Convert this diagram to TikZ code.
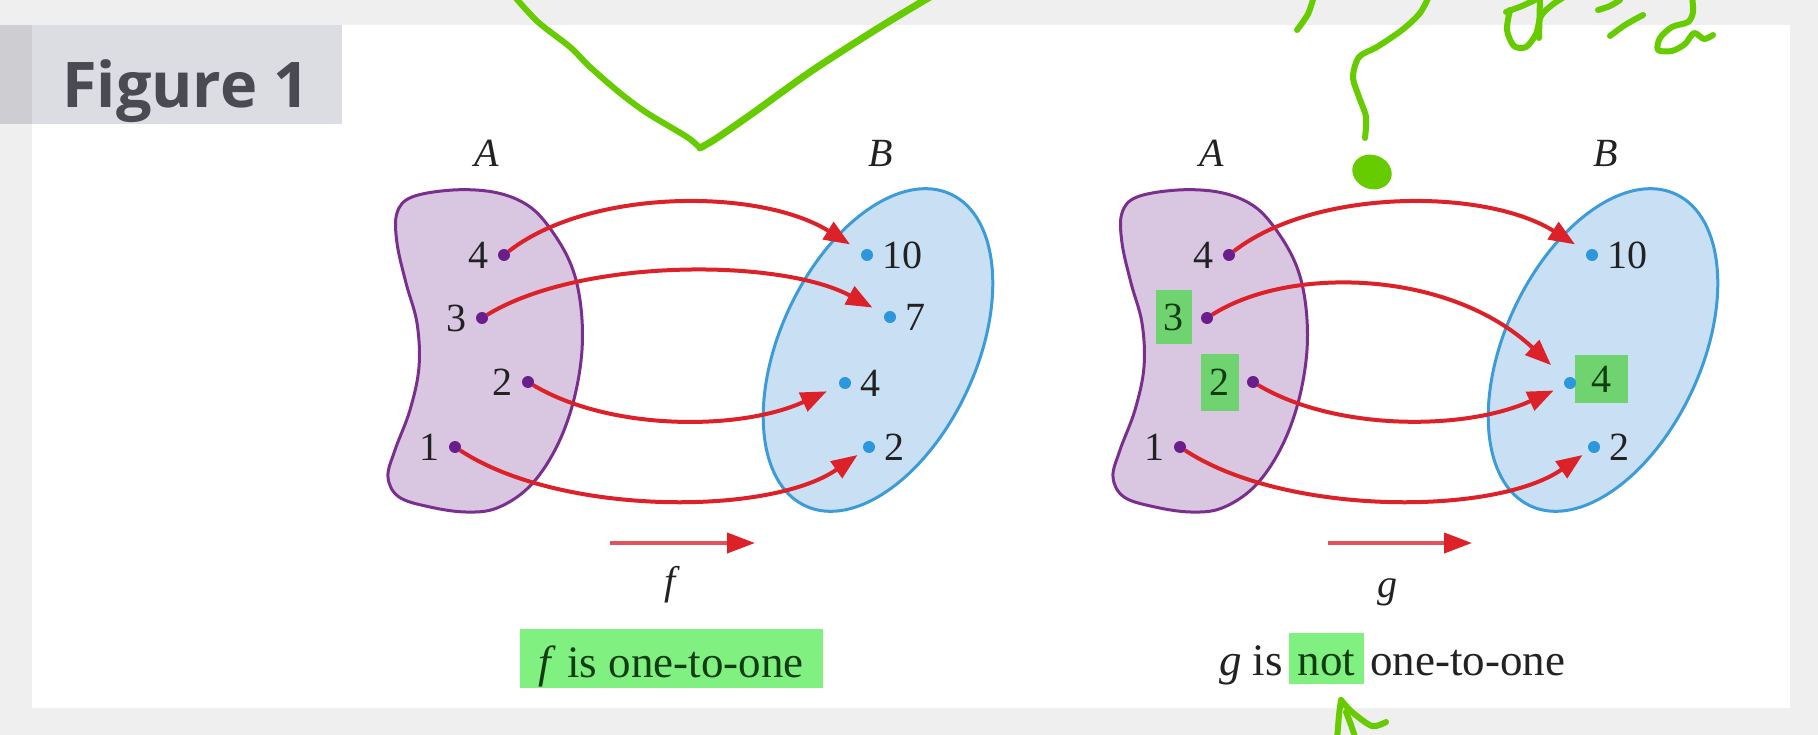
\documentclass[tikz,border=0pt]{standalone}
\usepackage{fontspec}
\setmainfont{Liberation Serif}
\newfontfamily\figfont{Open Sans}
\usetikzlibrary{arrows.meta}
\definecolor{bgout}{HTML}{EFEFEF}
\definecolor{tabfill}{HTML}{DCDCE3}
\definecolor{tabdark}{HTML}{CECED2}
\definecolor{tabtext}{HTML}{4A4A52}
\definecolor{blobAline}{HTML}{7A2F8E}
\definecolor{blobAfill}{HTML}{D9C7E1}
\definecolor{ellBline}{HTML}{3C9BD9}
\definecolor{ellBfill}{HTML}{C9DFF4}
\definecolor{dotA}{HTML}{6A1E8C}
\definecolor{dotB}{HTML}{2D97DD}
\definecolor{txt}{HTML}{222222}
\definecolor{arrred}{HTML}{DD2129}
\definecolor{arrpink}{HTML}{E2525C}
\definecolor{hlnum}{HTML}{6FD46F}
\definecolor{hlbright}{HTML}{80F080}
\definecolor{hltext}{HTML}{123D12}
\definecolor{scribble}{HTML}{66CC00}
\newcommand\myhlbox[1]{{\setlength\fboxsep{0pt}\colorbox{hlbright}{\rule[-9pt]{0pt}{51pt}\hspace{9pt}\textcolor{hltext}{#1}\hspace{9pt}}}}
\newcommand\blobApath{plot[smooth cycle, tension=0.6] coordinates {(412,197) (453,190) (493,192) (524,203) (546,223) (569,260) (580,300) (582,350) (573,403) (555,450) (529,487) (497,508) (466,512) (430,507) (399,497) (388,477) (395,450) (410,410) (419,367) (417,323) (406,283) (397,243) (397,213)}}
\pgfdeclarelayer{back}
\pgfdeclarelayer{mid}
\pgfsetlayers{back,mid,main}
\begin{document}
\begin{tikzpicture}[x=1pt,y=-1pt,
  blobA/.style={draw=blobAline, fill=blobAfill, line width=3pt},
  ellB/.style={draw=ellBline, fill=ellBfill, line width=3pt},
  adot/.style={circle, fill=dotA, inner sep=0pt, minimum size=12pt, outer sep=0pt},
  bdot/.style={circle, fill=dotB, inner sep=0pt, minimum size=12pt, outer sep=0pt},
  num/.style={font=\fontsize{40}{48}\selectfont, inner sep=0pt, text=txt},
  setlab/.style={font=\fontsize{40}{48}\selectfont\itshape, inner sep=0pt, text=txt},
  maparr/.style={draw=arrred, line width=4pt, -{Triangle[length=26pt,width=20pt]}, shorten >=14pt},
  smallarr/.style={draw=arrpink, line width=4pt, -{Triangle[length=28pt,width=20pt,color=arrred]}},
  hlnumbox/.style={num, fill=hlnum, text=hltext},
  scrib/.style={draw=scribble, line width=6pt, line cap=round, line join=round}
]
\useasboundingbox (0,0) rectangle (1818,735);
\begin{pgfonlayer}{back}
\fill[bgout] (0,0) rectangle (1818,735);
\fill[white] (32,25) rectangle (1790,708);
\fill[tabfill] (0,25) rectangle (342,124);
\fill[tabdark] (0,25) rectangle (32,124);
% f diagram sets
\draw[blobA] \blobApath;
\draw[ellB, rotate around={-25:(878,350)}] (878,350) ellipse [x radius=98pt, y radius=172pt];
% g diagram sets
\begin{scope}[xshift=725pt]
\draw[blobA] \blobApath;
\draw[ellB, rotate around={-25:(878,350)}] (878,350) ellipse [x radius=98pt, y radius=172pt];
\end{scope}
\end{pgfonlayer}

\node[anchor=base west, text=tabtext, font=\figfont\bfseries\fontsize{63}{70}\selectfont, inner sep=0pt] (fig) at (62,108) {Figure 1};

% set labels
\node[setlab] (fA) at (487,153) {A};
\node[setlab] (fB) at (881,153) {B};
\node[setlab] (gA) at (1212,153) {A};
\node[setlab] (gB) at (1606,153) {B};

% dots f
\node[adot] (fa4) at (504,255) {};
\node[adot] (fa3) at (482,318) {};
\node[adot] (fa2) at (528,382) {};
\node[adot] (fa1) at (455,447) {};
\node[bdot] (fb10) at (867,255) {};
\node[bdot] (fb7) at (890,317) {};
\node[bdot] (fb4) at (845,383) {};
\node[bdot] (fb2) at (869,447) {};
% dots g
\node[adot] (ga4) at (1229,255) {};
\node[adot] (ga3) at (1207,318) {};
\node[adot] (ga2) at (1253,382) {};
\node[adot] (ga1) at (1180,447) {};
\node[bdot] (gb10) at (1592,255) {};
\node[bdot] (gb4) at (1570,383) {};
\node[bdot] (gb2) at (1594,447) {};

% number labels f
\node[num, anchor=east] (fa4l) at ([xshift=-15pt]fa4.center) {4};
\node[num, anchor=east] (fa3l) at ([xshift=-15pt]fa3.center) {3};
\node[num, anchor=east] (fa2l) at ([xshift=-15pt]fa2.center) {2};
\node[num, anchor=east] (fa1l) at ([xshift=-15pt]fa1.center) {1};
\node[num, anchor=west] (fb10l) at ([xshift=15pt]fb10.center) {10};
\node[num, anchor=west] (fb7l) at ([xshift=15pt]fb7.center) {7};
\node[num, anchor=west] (fb4l) at ([xshift=15pt]fb4.center) {4};
\node[num, anchor=west] (fb2l) at ([xshift=15pt]fb2.center) {2};
% number labels g
\node[num, anchor=east] (ga4l) at ([xshift=-15pt]ga4.center) {4};
\node[num, anchor=east] (ga1l) at ([xshift=-15pt]ga1.center) {1};
\node[num, anchor=west] (gb10l) at ([xshift=15pt]gb10.center) {10};
\node[num, anchor=west] (gb2l) at ([xshift=15pt]gb2.center) {2};

\begin{pgfonlayer}{mid}
\node[hlnumbox, minimum width=36pt, minimum height=53pt, anchor=east] (ga3l) at ([xshift=-15pt,yshift=1pt]ga3.center) {3};
\node[hlnumbox, minimum width=38pt, minimum height=57pt, anchor=east] (ga2l) at ([xshift=-14pt]ga2.center) {2};
\node[hlnumbox, minimum width=53pt, minimum height=48pt, anchor=west] (gb4l) at ([xshift=5pt,yshift=4pt]gb4.center) {4};

% mapping arrows f
\draw[maparr] (fa4) .. controls (590,188) and (760,188) .. (fb10);
\draw[maparr] (fa3) .. controls (580,258) and (780,258) .. (fb7);
\draw[maparr] (fa2) .. controls (610,431) and (740,431) .. (fb4);
\draw[maparr, shorten >=8pt] (fa1) .. controls (560,516) and (770,516) .. (fb2);
% mapping arrows g
\draw[maparr] (ga4) .. controls (1315,188) and (1485,188) .. (gb10);
\draw[maparr, shorten >=20pt] (ga3) .. controls (1290,265) and (1450,270) .. (gb4);
\draw[maparr, shorten >=12pt] (ga2) .. controls (1335,431) and (1465,431) .. (gb4);
\draw[maparr, shorten >=8pt] (ga1) .. controls (1285,516) and (1495,516) .. (gb2);
\end{pgfonlayer}

% small arrows and function names
\coordinate (fs) at (610,543);
\coordinate (fe) at (755,543);
\draw[smallarr] (fs) -- (fe);
\coordinate (gs) at (1328,543);
\coordinate (ge) at (1472,543);
\draw[smallarr] (gs) -- (ge);
\node[setlab] (fname) at (670,585) {f};
\node[setlab] (gname) at (1387,592) {g};

% captions
\node[anchor=base, fill=hlbright, text=hltext, font=\fontsize{45}{54}\selectfont, inner sep=0pt, minimum width=303pt, text height=48pt, text depth=11pt] (fcap) at (671,677) {\textit{f} is one-to-one\hspace{10pt}};
\node[anchor=base west, font=\fontsize{45}{54}\selectfont, inner sep=0pt, text=txt] (gcap) at (1219,675) {\textit{g} is\hspace{6pt}\myhlbox{not}\hspace{6pt}one-to-one};

% handwritten green annotations
\begin{scope}
\clip (0,0) rectangle (1818,735);
\draw[scrib] plot[smooth, tension=0.5] coordinates {(514,-4) (538,22) (570,47) (590,67) (620,93) (647,113) (687,137) (700,148)};
\draw[scrib, line width=7pt] plot[smooth, tension=0.5] coordinates {(700,148) (717,138) (753,113) (813,70) (880,27) (930,-3)};
\draw[scrib] plot[smooth, tension=0.5] coordinates {(1430,-6) (1420,13) (1402,30) (1377,47) (1359,57) (1353,77) (1359,97) (1366,117) (1365,138)};
\fill[scribble, rotate around={-20:(1372,172)}] (1372,172) ellipse [x radius=20pt, y radius=17pt];
\draw[scrib] plot[smooth, tension=0.5] coordinates {(1297,30) (1308,14) (1314,-4)};
\draw[scrib] plot[smooth, tension=0.5] coordinates {(1510,10) (1507,30) (1514,46) (1526,47) (1536,34) (1541,16) (1552,5) (1564,-3)};
\draw[scrib] (1540,-3) -- (1539,38);
\draw[scrib] plot[smooth, tension=0.5] coordinates {(1506,12) (1522,6) (1535,0)};
\draw[scrib] plot[smooth, tension=0.5] coordinates {(1598,10) (1610,6) (1620,0)};
\draw[scrib] plot[smooth, tension=0.5] coordinates {(1610,36) (1625,25) (1643,15)};
\draw[scrib] plot[smooth, tension=0.5] coordinates {(1692,-4) (1693,12) (1688,22) (1672,27) (1660,38) (1658,50) (1672,51) (1685,44) (1694,33) (1704,39) (1713,35)};
\draw[scrib] plot[smooth, tension=0.5] coordinates {(1337,740) (1339,715) (1341,700)};
\draw[scrib] plot[smooth, tension=0.5] coordinates {(1341,700) (1352,712) (1372,726) (1386,722)};
\draw[scrib] plot[smooth, tension=0.5] coordinates {(1346,712) (1351,725) (1356,740)};
\end{scope}
\end{tikzpicture}
\end{document}
